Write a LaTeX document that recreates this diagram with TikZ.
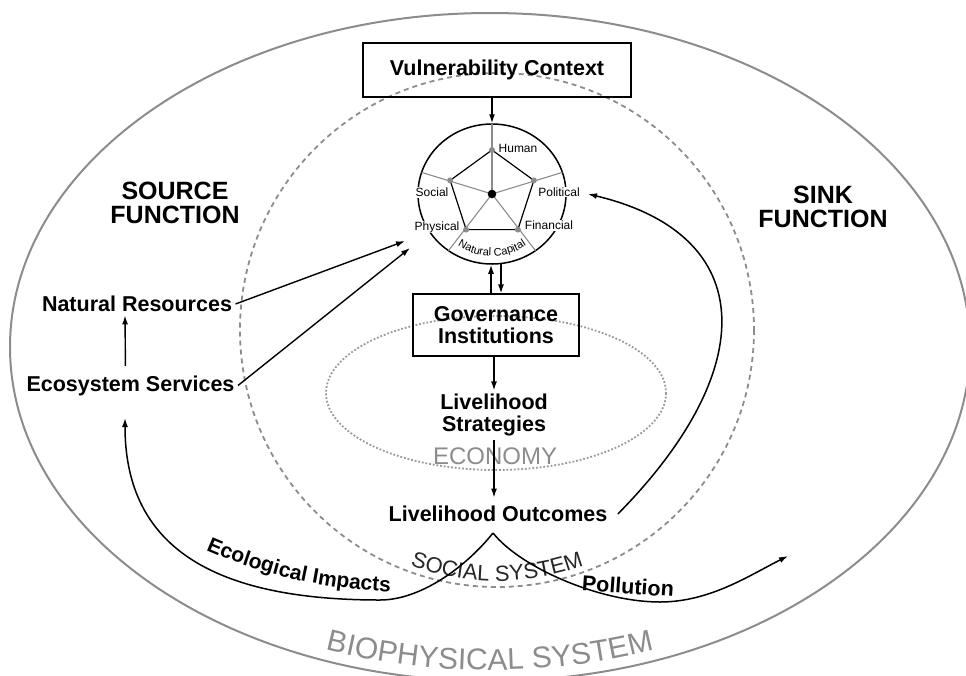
\documentclass[tikz,border=0pt]{standalone}
\usepackage{fontspec}
\setmainfont{Liberation Sans}
\usetikzlibrary{arrows.meta,calc,decorations.text,shapes.geometric}

\begin{document}
\begin{tikzpicture}[x=1pt,y=-1pt,
  lbl/.style={font=\bfseries\fontsize{21.5}{22}\selectfont,align=center},
  big/.style={font=\bfseries\fontsize{25}{24}\selectfont,align=center},
  box/.style={draw,line width=1.2pt,lbl},
  capname/.style={font=\fontsize{12}{12}\selectfont,fill=white,inner sep=0.8pt},
  arr/.style={line width=1.4pt,-{Latex[length=9pt,width=6pt]}},
  flow/.style={line width=1.5pt},
  sys/.style={black!45}]
\useasboundingbox (0,0) rectangle (966,675);
\clip (0,0) rectangle (966,675);
\draw[sys,line width=2pt] (490,347) ellipse [x radius=480, y radius=334];
\draw[sys,line width=1.8pt,dash pattern=on 5pt off 4pt] (497,330) circle [radius=257];
\draw[black!40,line width=1.8pt,dash pattern=on 1.8pt off 1.9pt] (496,393) ellipse [x radius=170, y radius=77];
\path[decorate,decoration={text along path,text align=center,
  text={|\fontsize{30}{30}\selectfont\color{black!45}|BIOPHYSICAL SYSTEM}}]
  (490,347) ++(120:470 and 323) arc[start angle=120,end angle=60,x radius=470,y radius=323];
\path[decorate,decoration={text along path,text align=center,
  text={|\fontsize{22}{22}\selectfont\color{black!85}|SOCIAL SYSTEM}}]
  (497,330) ++(125:251) arc[start angle=125,end angle=55,radius=251];
\node[font=\fontsize{24}{24}\selectfont,text=black!45] (eco) at (495,456) {ECONOMY};

\node[box,minimum width=268,minimum height=54] (vul) at (497,70) {Vulnerability Context};
\node[draw,line width=1.5pt,ellipse,minimum width=148,minimum height=140,inner sep=0] (cap) at (492,194) {};
\foreach \a [count=\i] in {-90,-18,54,126,198}{
  \coordinate (v\i) at ($(cap.center)+(\a:44)$);
  \draw[black!45,line width=1.1pt] (cap.center) -- ($(cap.center)+({74*cos(\a)},{70*sin(\a)})$);
}
\draw[line width=1.2pt] (v1) -- (v2) -- (v3) -- (v4) -- (v5) -- cycle;
\foreach \i in {1,...,5} \fill[black!45] (v\i) circle[radius=3];
\fill (cap.center) circle[radius=4.3];
\node[capname] (hum) at (518,148) {Human};
\node[capname] (soc) at (432,192.5) {Social};
\node[capname] (polit) at (559,192) {Political};
\node[capname] (phy) at (437,227) {Physical};
\node[capname] (fin) at (549,225.5) {Financial};
\path[decorate,decoration={text along path,text align=center,
  text={|\fontsize{11}{11}\selectfont|Natural Capital}}]
  (cap.center) ++(150:62) arc[start angle=150,end angle=30,radius=62];

\node[box,minimum width=166,minimum height=62] (gov) at (496,325) {Governance\\Institutions};
\node[lbl] (strat) at (494,415) {Livelihood\\Strategies};
\node[lbl] (outc) at (498,514) {Livelihood Outcomes};
\node[lbl] (nr) at (137,304) {Natural Resources};
\node[lbl] (es) at (130.5,385.5) {Ecosystem Services};
\node[big] (src) at (175,203) {SOURCE\\FUNCTION};
\node[big] (snk) at (823,206.5) {SINK\\FUNCTION};
\node[lbl,rotate=-4] (pollu) at (628,586) {Pollution};
\path[decorate,decoration={text along path,text align=left,
  text={|\bfseries\fontsize{21}{21}\selectfont|Ecological Impacts}}]
  (206,550) .. controls (275,580) and (345,594) .. (430,592);

\coordinate (cusp) at (493,533);
\coordinate (srcA) at (405,241);
\coordinate (srcB) at (410,248);
\coordinate (ecoend) at (125,418);
\coordinate (sinkend) at (788,556);
\coordinate (politend) at (588,194);

\draw[arr] (vul.south -| cap.north) -- (cap.north);
\draw[arr] ($(gov.north)+(-5,0)$) -- ($(cap.south)+(-1,0)$);
\draw[arr] ($(cap.south)+(9,-1)$) -- ($(gov.north)+(5,0)$);
\draw[arr] (strat.north |- gov.south) -- (strat.north);
\draw[arr,shorten >=5pt] (strat.south) -- (strat.south |- outc.north);
\draw[arr] (nr.east) -- (srcA);
\draw[arr] (es.east) -- (srcB);
\draw[arr,shorten <=6pt] ($(es.north)+(-5,0)$) -- ($(nr.south)+(-12,0)$);
\draw[arr,flow] ([xshift=7pt]outc.east) .. controls (760,370) and (760,235) .. (politend);
\draw[arr,flow] (cusp) .. controls (465,568) and (420,600) .. (380,600)
  .. controls (200,600) and (125,538) .. (ecoend);
\draw[arr,flow] (cusp) .. controls (521,568) and (600,602) .. (660,602)
  .. controls (710,602) and (750,575) .. (sinkend);
\end{tikzpicture}
\end{document}
